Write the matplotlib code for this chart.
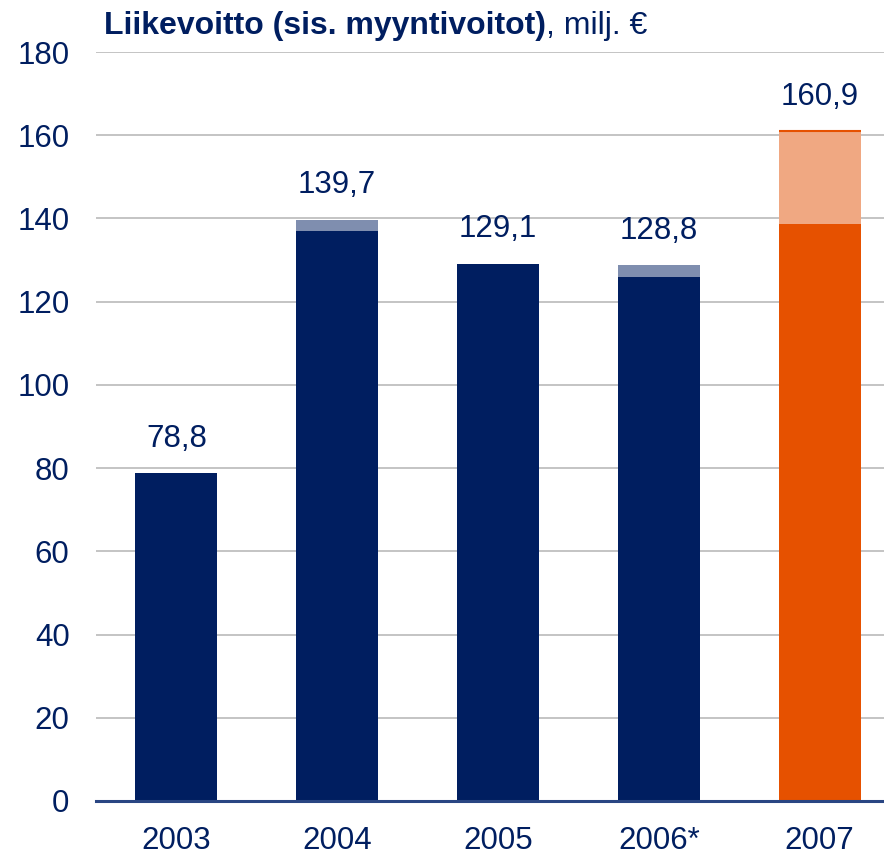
import matplotlib
matplotlib.use("Agg")
import matplotlib.pyplot as plt
import numpy as np

plt.rcParams['font.family'] = ['Liberation Sans', 'DejaVu Sans']

years = ["2003", "2004", "2005", "2006*", "2007"]
base = [78.8, 137.0, 129.1, 125.9, 138.7]
gains = [0.0, 2.7, 0.0, 2.9, 22.2]
totals = [78.8, 139.7, 129.1, 128.8, 160.9]
labels = ["78,8", "139,7", "129,1", "128,8", "160,9"]
yticks = [0, 20, 40, 60, 80, 100, 120, 140, 160, 180]

navy = "#001E60"
light_navy = "#7F8EAF"
orange = "#E65100"
light_orange = "#F0A882"
base_colors = [navy, navy, navy, navy, orange]
gain_colors = [light_navy, light_navy, light_navy, light_navy, light_orange]

fig = plt.figure(figsize=(8.84, 8.61), dpi=100)
ax = fig.add_axes([96/884, 1-801/861, 1-96/884, (801-52)/861])

x = np.arange(len(years))
w = 0.51
ax.bar(x, base, width=w, color=base_colors, zorder=3)
ax.bar(x, gains, width=w, bottom=base, color=gain_colors, zorder=3)
ax.hlines(totals[4], x[4]-w/2, x[4]+w/2, color=orange, lw=1.5, zorder=4)

for xi, t, lab in zip(x, totals, labels):
    ax.annotate(lab, (xi, t), xytext=(0, 14), textcoords="offset points",
                ha="center", va="bottom", fontsize=22.5, color=navy)

ax.set_ylim(0, 180)
ax.set_xlim(-0.5, 4.4)
ax.set_yticks(yticks)
ax.set_yticklabels([str(v) for v in yticks])
ax.set_xticks(x)
ax.set_xticklabels(years)
ax.tick_params(axis="y", length=0, pad=19, labelsize=22.5, labelcolor=navy)
ax.tick_params(axis="x", length=0, pad=18, labelsize=22.5, labelcolor=navy)
ax.grid(axis="y", color="#C4C4C4", lw=1.4, zorder=0)
ax.set_axisbelow(True)
for s in ["top", "right", "left"]:
    ax.spines[s].set_visible(False)
ax.spines["bottom"].set_color("#2A4683")
ax.spines["bottom"].set_linewidth(2.2)
ax.spines["bottom"].set_zorder(5)

t1 = fig.text(104/884, 1-34/861, "Liikevoitto (sis. myyntivoitot)", fontsize=23,
              fontweight="bold", color=navy, ha="left", va="baseline")
fig.canvas.draw()
bb = t1.get_window_extent()
fig.text(bb.x1/fig.bbox.width, 1-34/861, ", milj. €", fontsize=23,
         color=navy, ha="left", va="baseline")

fig.savefig("out.png", dpi=100)
